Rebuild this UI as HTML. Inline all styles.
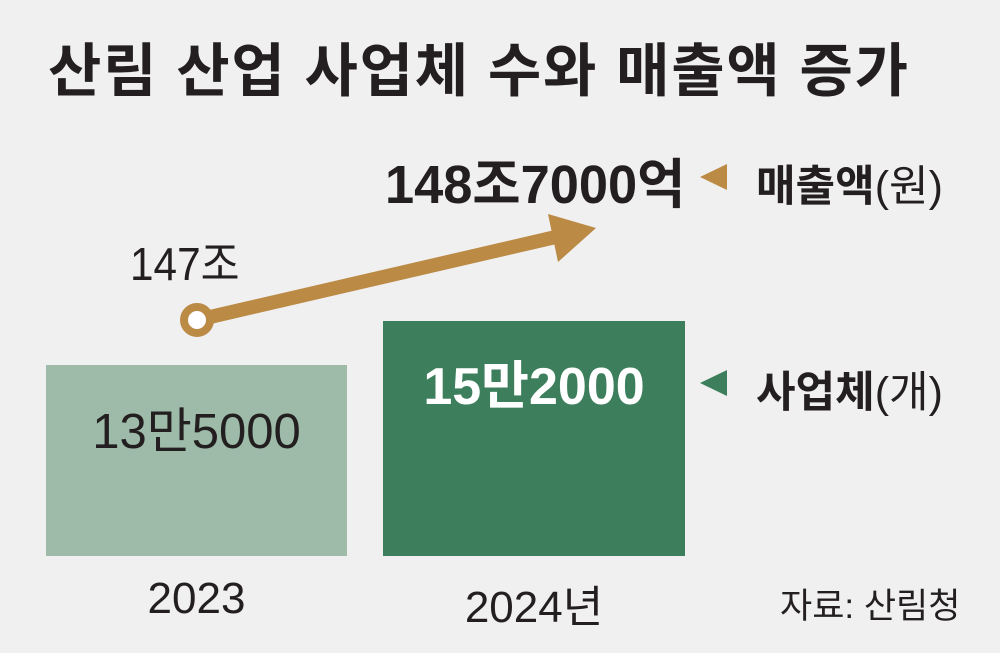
<!DOCTYPE html>
<html><head><meta charset="utf-8"><style>
body{margin:0;width:1000px;height:653px;background:#f0f0f0;overflow:hidden;position:relative;font-family:"Liberation Sans","Noto Sans CJK KR",sans-serif;color:#231f20}
.t{position:absolute;white-space:nowrap}
</style></head><body>
<div class="t" style="left:48px;top:24px;font-size:58px;font-weight:bold;letter-spacing:1.8px">산림 산업 사업체 수와 매출액 증가</div>
<div style="position:absolute;left:46px;top:365px;width:301px;height:191px;background:#9dbba8"></div>
<div style="position:absolute;left:383px;top:321px;width:302px;height:235px;background:#3d7f5d"></div>
<svg style="position:absolute;left:0;top:0" width="1000" height="653">
<line x1="197" y1="320" x2="560" y2="236" stroke="#bb8a45" stroke-width="14"/>
<polygon points="596,228 548,214 558,262" fill="#bb8a45"/>
<circle cx="197" cy="320" r="13" fill="#fff" stroke="#bb8a45" stroke-width="8"/>
<polygon points="700,177 727,164 727,190" fill="#bb8a45"/>
<polygon points="700,383 727,370 727,396" fill="#3d7f5d"/>
</svg>
<div class="t" style="left:130px;top:228px;font-size:46px;transform-origin:0 0;transform:scaleX(0.92)">147조</div>
<div class="t" style="left:385px;top:140px;font-size:54px;font-weight:bold;transform-origin:0 0;transform:scaleX(0.97)">148조7000억</div>
<div class="t" style="left:756px;top:152px;font-size:43px"><b>매출액</b>(원)</div>
<div class="t" style="left:756px;top:358px;font-size:43px"><b>사업체</b>(개)</div>
<div class="t" style="left:46px;width:301px;text-align:center;top:392px;font-size:49px">13만5000</div>
<div class="t" style="left:383px;width:302px;text-align:center;top:344px;font-size:52px;color:#fff;font-weight:bold">15만2000</div>
<div class="t" style="left:46px;width:301px;text-align:center;top:574px;font-size:44px">2023</div>
<div class="t" style="left:383px;width:302px;text-align:center;top:571px;font-size:44px">2024년</div>
<div class="t" style="left:780px;top:578px;font-size:35px">자료: 산림청</div>
</body></html>
